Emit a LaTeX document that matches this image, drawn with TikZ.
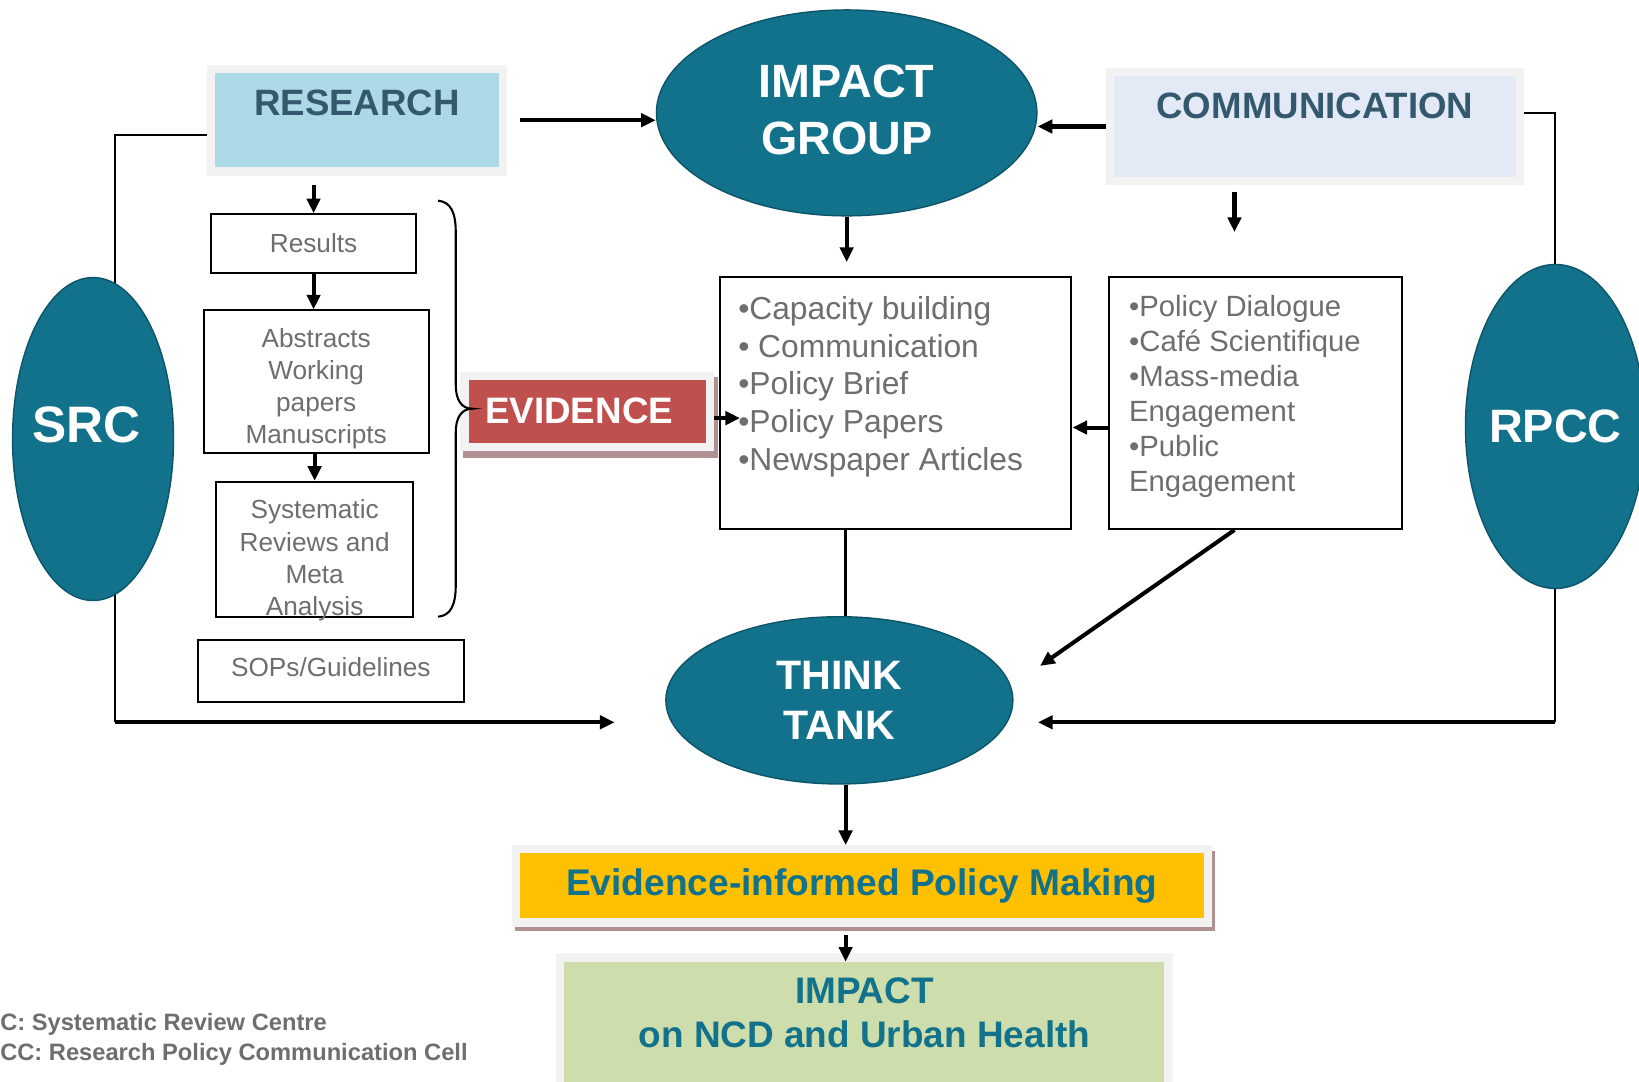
\documentclass[tikz,border=0pt]{standalone}
\usepackage{fontspec}
\setmainfont{Liberation Sans}
\usepackage{tikz}
\usetikzlibrary{shapes.geometric, arrows.meta}

\definecolor{tealfill}{RGB}{18,114,140}
\definecolor{tealline}{RGB}{12,84,104}
\definecolor{headtext}{RGB}{52,88,110}
\definecolor{researchblue}{RGB}{173,216,230}
\definecolor{commblue}{RGB}{227,234,246}
\definecolor{framegray}{RGB}{242,242,242}
\definecolor{evidred}{RGB}{192,80,77}
\definecolor{shadowbrown}{RGB}{176,144,144}
\definecolor{policyyellow}{RGB}{255,192,0}
\definecolor{impactgreen}{RGB}{205,222,172}
\definecolor{bodygray}{RGB}{110,110,110}

\newcommand{\pxfont}[2]{\fontsize{#1}{#2}\selectfont}

\begin{document}
\begin{tikzpicture}[x=0.75pt,y=0.75pt,yscale=-1,xscale=1,
    oval/.style={ellipse, draw=tealline, line width=1pt, fill=tealfill, text=white, inner sep=0pt, align=center},
    plain/.style={rectangle, draw=black, line width=1.5pt, fill=white, inner sep=0pt, text=bodygray, align=center},
    framed/.style={rectangle, draw=framegray, line width=6pt, inner sep=0pt, align=center},
    bodytext/.style={inner sep=0pt, text=bodygray},
    arr/.style={-{Triangle[length=10.5pt,width=9.5pt]}, line width=2.9pt},
    loopline/.style={line width=1.5pt},
    link/.style={line width=1.8pt}]
    \useasboundingbox [fill=white] (0,0) rectangle (1568,1035);

    %Shape: Rectangle -- research head
    \node [framed, fill=researchblue, minimum width=209.25pt, minimum height=73.5pt, text depth=25.5pt, text=headtext, font=\pxfont{26.3}{31}\bfseries] (research) at (341.5,115) {RESEARCH};
    %Shape: Rectangle -- communication head
    \node [framed, fill=commblue, minimum width=294pt, minimum height=78pt, text depth=30pt, text=headtext, font=\pxfont{26.3}{31}\bfseries] (comm) at (1258,121) {COMMUNICATION};

    %Straight Lines -- outer loops
    \coordinate (lc1) at (110,129);
    \coordinate (lc2) at (110,691);
    \coordinate (ltip) at (588,691);
    \coordinate (rc1) at (1488,108);
    \coordinate (rc2) at (1488,691);
    \coordinate (rtip) at (993,691);
    \draw [loopline] (research.west |- lc1) -- (lc1) -- (lc2);
    \draw [arr] (lc2) -- (ltip);
    \draw [loopline] (rc1 -| comm.east) -- (rc1) -- (rc2);
    \draw [arr] (rc2) -- (rtip);

    %Shape: Ellipse
    \node [oval, minimum width=115.5pt, minimum height=231.75pt, label={[text=white, font=\pxfont{36.8}{44}\bfseries]center:\raisebox{21pt}{\hspace*{-9pt}SRC}}] (src) at (89,420) {};
    %Shape: Ellipse
    \node [oval, minimum width=129pt, minimum height=232.5pt, label={[text=white, font=\pxfont{33.6}{40}\bfseries]center:RPCC}] (rpcc) at (1488,408) {};
    %Shape: Ellipse
    \node [oval, minimum width=273pt, minimum height=147.75pt, text depth=4.5pt, font=\pxfont{33.5}{40.9}\bfseries] (impact) at (810,108) {IMPACT\\GROUP};
    %Shape: Ellipse
    \node [oval, minimum width=249pt, minimum height=120pt, font=\pxfont{29.5}{36}\bfseries] (think) at (803,670) {THINK\\TANK};

    %Shape: Rectangle -- research outputs
    \node [plain, minimum width=147pt, minimum height=42pt, font=\pxfont{18.8}{23}] (results) at (300,233) {Results};
    \node [plain, minimum width=161.25pt, minimum height=102pt] (abstracts) at (302.5,365) {};
    % Text Node
    \node [bodytext, align=center, font=\pxfont{18.8}{23}] (abstractstxt) at (302.5,371.5) {Abstracts\\Working\\papers\\Manuscripts};
    \node [plain, minimum width=141pt, minimum height=96.75pt] (sysrev) at (301,525.5) {};
    % Text Node
    \node [bodytext, align=center, font=\pxfont{18.8}{23}] (sysrevtxt) at (301,536) {Systematic\\Reviews and\\Meta\\Analysis};
    \node [plain, minimum width=191.25pt, minimum height=45pt, text depth=6pt, font=\pxfont{18.8}{23}] (sops) at (316.5,642) {SOPs/Guidelines};

    %Shape: Rectangle -- evidence
    \fill [shadowbrown] (443,361) rectangle (687,438);
    \node [framed, fill=evidred, minimum width=176.25pt, minimum height=51pt, text=white, font=\pxfont{26.4}{31}\bfseries] (evidence) at (562,393.5) {\hspace*{-12pt}EVIDENCE};

    %Shape: Brace
    \draw [line width=1.5pt] (419,192) .. controls (431,193) and (436,203) .. (436,222) -- (436,368) .. controls (436,382) and (441,391) .. (452,391) .. controls (441,391) and (436,400) .. (436,414) -- (436,560) .. controls (436,579) and (431,589) .. (419,590);

    %Shape: Rectangle -- impact group outputs
    \node [plain, minimum width=252pt, minimum height=180.75pt] (capbox) at (857,385.5) {};
    % Text Node
    \node [bodytext, anchor=north west, align=left, font=\pxfont{22.8}{27.2}] (captxt) at (706,283) {•Capacity building\\• Communication\\•Policy Brief\\•Policy Papers\\•Newspaper Articles};
    %Shape: Rectangle -- communication outputs
    \node [plain, minimum width=210pt, minimum height=180.75pt] (commbox) at (1201,385.5) {};
    % Text Node
    \node [bodytext, anchor=north west, align=left, font=\pxfont{21}{25.2}] (commtxt) at (1080,282) {•Policy Dialogue\\•Café Scientifique\\•Mass-media\\Engagement\\•Public\\Engagement};

    %Shape: Rectangle -- policy
    \fill [shadowbrown] (493,814) rectangle (1162,891);
    \node [framed, fill=policyyellow, minimum width=496.5pt, minimum height=52.5pt, text=tealfill, font=\pxfont{26.6}{31}\bfseries] (policy) at (824.5,847.5) {Evidence-informed Policy Making};
    %Shape: Rectangle -- impact
    \node [framed, fill=impactgreen, minimum width=436.5pt, minimum height=103.5pt, text depth=24pt, text=tealfill, font=\pxfont{26.5}{31.5}\bfseries] (ncdbox) at (827,985) {IMPACT\\on NCD and Urban Health};

    %Straight Lines -- arrows
    \coordinate (midline) at (809,0);
    \coordinate (commtip) at (1181,222);
    \coordinate (evidtip) at (708,400);
    \coordinate (listtip) at (1025,409);
    \coordinate (diagtip) at (995,637);
    \draw [arr, shorten <=9pt] (research.east) -- (research.east -| impact.west);
    \draw [arr] (comm.west) -- (comm.west -| impact.east);
    \draw [arr, shorten >=10pt] (impact.south) -- (impact.south |- capbox.north);
    \draw [arr, shorten <=6.5pt] (results.north |- research.south) -- (results.north);
    \draw [arr] (results.south) -- (results.south |- abstracts.north);
    \draw [arr] (sysrev.north |- abstracts.south) -- (sysrev.north);
    \draw [arr, shorten <=5pt] (commtip |- comm.south) -- (commtip);
    \draw [arr] (evidtip -| evidence.east) -- (evidtip);
    \draw [arr] (commbox.west |- listtip) -- (capbox.east |- listtip);
    \draw [link] (midline |- capbox.south) -- (midline |- think.north);
    \draw [arr] (commtip |- commbox.south) -- (diagtip);
    \draw [arr] (midline |- think.south) -- (midline |- policy.north);
    \draw [arr, shorten <=6pt, shorten >=-6pt] (midline |- policy.south) -- (midline |- ncdbox.north);

    % Text Node
    \node [bodytext, anchor=north west, align=left, font=\pxfont{17}{21}\bfseries] (legend) at (0,969.5) {C: Systematic Review Centre\\CC: Research Policy Communication Cell};
\end{tikzpicture}
\end{document}
